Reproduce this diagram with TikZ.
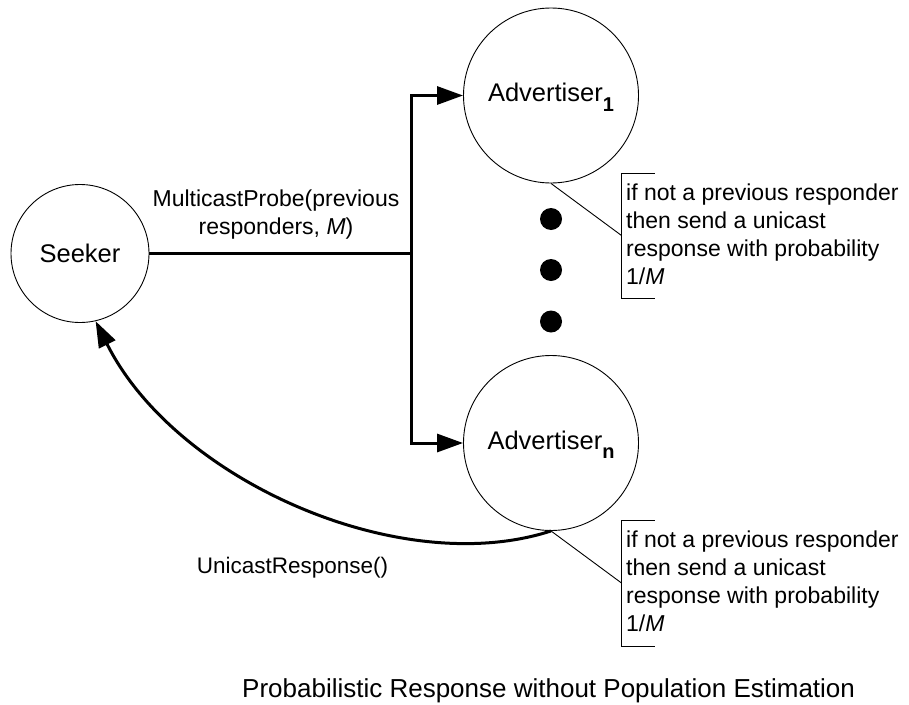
\documentclass[tikz,border=0pt]{standalone}
\usepackage{fontspec}
\setmainfont{Liberation Sans}
\usetikzlibrary{arrows.meta}
\newcommand{\lowsub}[1]{\smash{\raisebox{-9.5pt}{\fontsize{20}{20}\selectfont\bfseries #1}}}

\begin{document}
\begin{tikzpicture}[x=1pt,y=-1pt,
  peer/.style={circle,draw,line width=0.9pt,inner sep=0pt,font=\fontsize{25.5}{30}\selectfont},
  dotn/.style={circle,fill,minimum size=22pt,inner sep=0pt},
  msg/.style={line width=3pt,-{Triangle[length=26pt,width=18pt]}},
  note/.style={align=left,anchor=north west,inner sep=0pt,font=\fontsize{23}{28}\selectfont},
  thin/.style={line width=0.9pt}]
  \useasboundingbox (0,0) rectangle (909,704);

  \node[peer,minimum size=138pt] (s) at (80,253.5) {Seeker};
  \node[peer,minimum size=175pt,text depth=6pt] (a1) at (551,95.5) {Advertiser\lowsub{1}};
  \node[peer,minimum size=175pt,text depth=6pt] (an) at (551,443) {Advertiser\lowsub{n}};
  \node[dotn] (d1) at (551,219) {};
  \node[dotn] (d2) at (551,270) {};
  \node[dotn] (d3) at (551,321.5) {};
  \coordinate (j) at (411.5,253.5);

  \draw[line width=3pt] (s.east) -- (j);
  \draw[msg] (j) |- (a1.west);
  \draw[msg] (j) |- (an.west);
  \draw[msg] (an.south) .. controls (400,580) and (175,480) .. (s.-77);

  \node[align=center,anchor=north,inner sep=0pt,font=\fontsize{23}{28}\selectfont] (m)
    at (276,189.5) {MulticastProbe(previous\\responders, \textit{M})};
  \node[anchor=base,inner sep=0pt,font=\fontsize{22.5}{27}\selectfont] (u)
    at (292.5,573) {UnicastResponse()};

  \coordinate (b1) at (621.5,235.5);
  \coordinate (b2) at (621.5,583);
  \draw[thin] (654.5,173) -- (621.5,173) -- (621.5,298) -- (654.5,298);
  \draw[thin] (654.5,520) -- (621.5,520) -- (621.5,646) -- (654.5,646);
  \draw[thin] (a1.south) -- (b1);
  \draw[thin] (an.south) -- (b2);
  \node[note] (t1) at (626,184) {if not a previous responder\\then send a unicast\\response with probability\\1/\textit{M}};
  \node[note] (t2) at (626,531) {if not a previous responder\\then send a unicast\\response with probability\\1/\textit{M}};

  \node[anchor=base west,inner sep=0pt,font=\fontsize{26}{31}\selectfont] (ttl)
    at (242,697) {Probabilistic Response without Population Estimation};
\end{tikzpicture}
\end{document}
